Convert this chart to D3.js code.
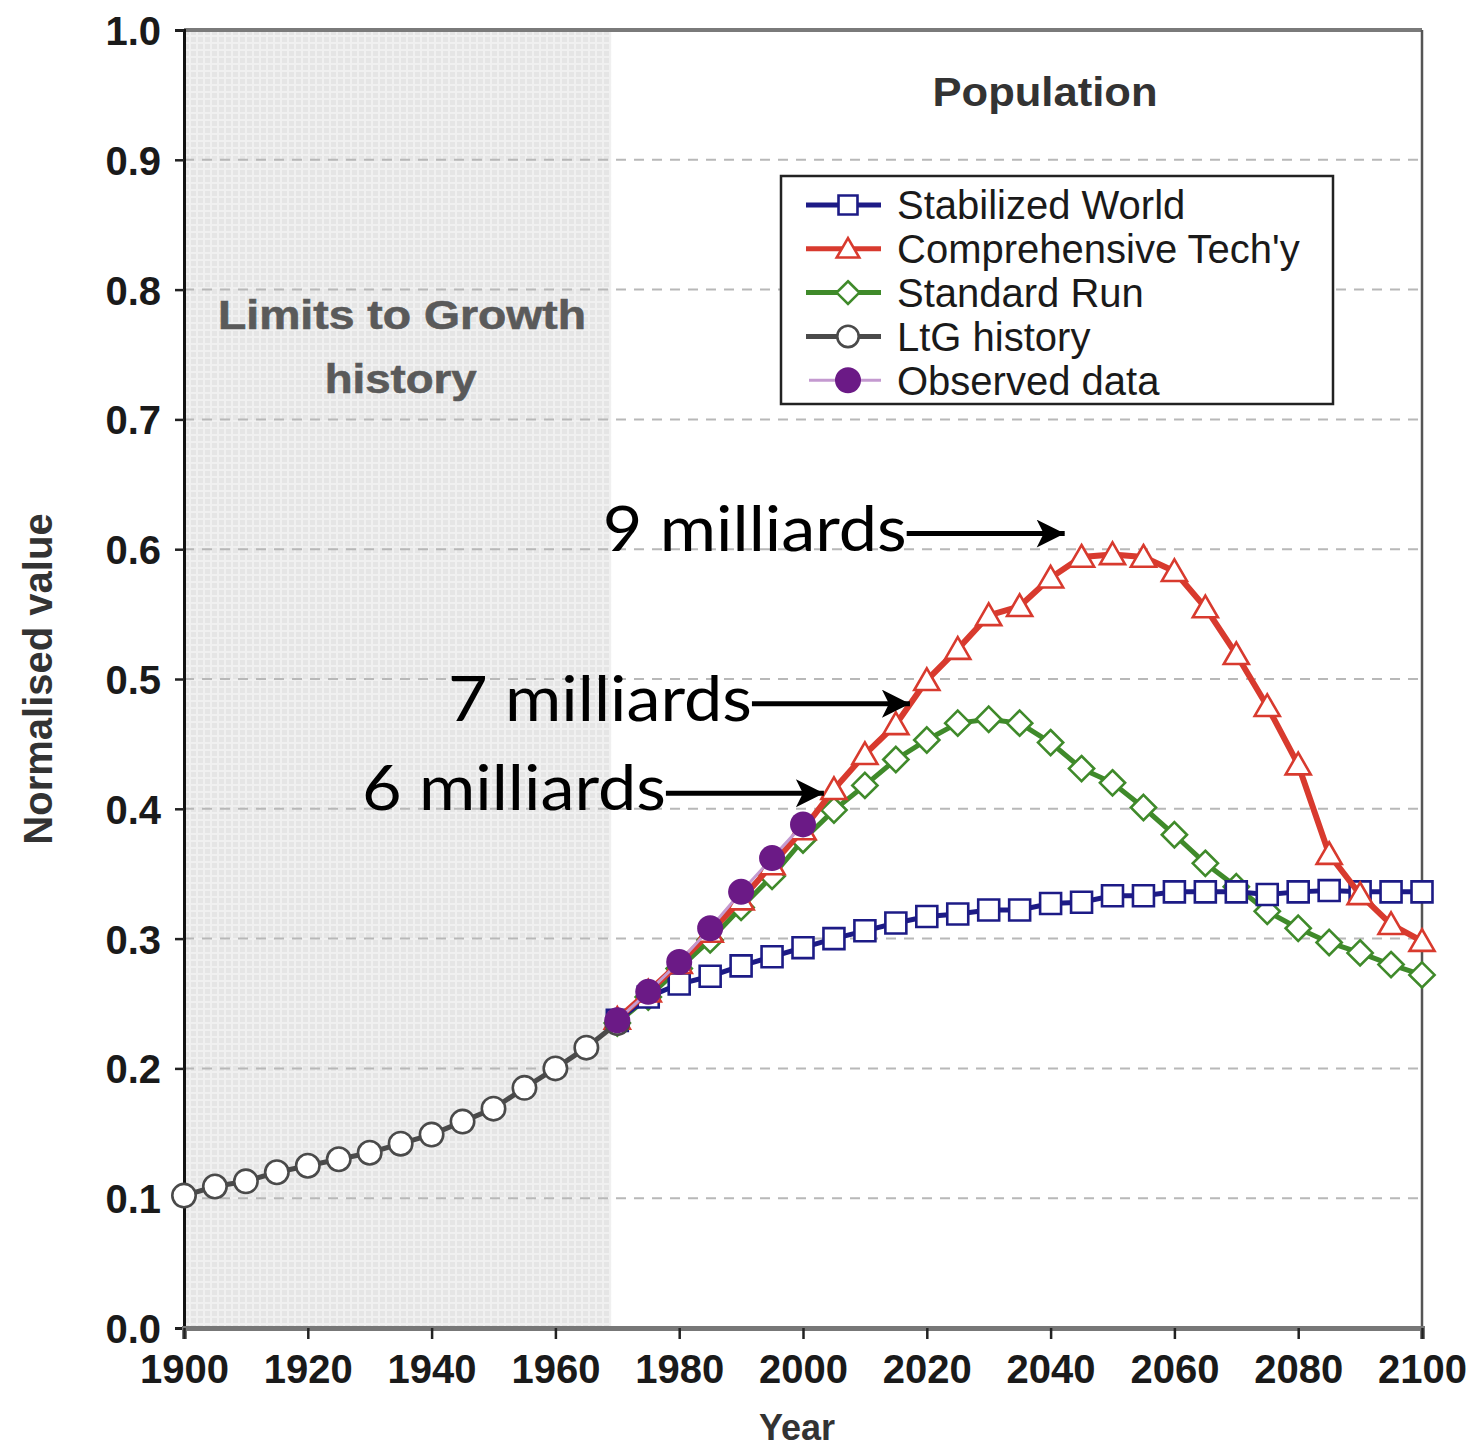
<!DOCTYPE html>
<html><head><meta charset="utf-8">
<script src="https://cdn.jsdelivr.net/npm/d3@7"></script>
<style>
html,body{margin:0;padding:0;background:#fff;}
svg{display:block;}
</style></head>
<body>
<svg id="chart" width="1474" height="1452"></svg>
<script>
// ---------- data ----------
const historyYears = [1900,1905,1910,1915,1920,1925,1930,1935,1940,1945,1950,1955,1960,1965,1970];
const ltgHistory   = [0.102,0.109,0.113,0.120,0.125,0.130,0.135,0.142,0.149,0.159,0.169,0.185,0.200,0.216,0.235];

const scenarioYears = [1970,1975,1980,1985,1990,1995,2000,2005,2010,2015,2020,2025,2030,2035,2040,2045,2050,2055,2060,2065,2070,2075,2080,2085,2090,2095,2100];
const stabilizedWorld = [0.237,0.255,0.265,0.271,0.279,0.286,0.293,0.300,0.306,0.312,0.317,0.319,0.322,0.322,0.327,0.328,0.333,0.333,0.336,0.336,0.336,0.334,0.336,0.337,0.336,0.336,0.336];
const comprehensiveTech = [0.238,0.259,0.281,0.305,0.330,0.357,0.384,0.415,0.442,0.465,0.499,0.523,0.549,0.556,0.578,0.594,0.596,0.594,0.583,0.555,0.519,0.479,0.434,0.365,0.334,0.311,0.298];
const standardRun = [0.235,0.255,0.277,0.299,0.324,0.348,0.376,0.399,0.418,0.438,0.453,0.466,0.469,0.466,0.451,0.431,0.420,0.401,0.380,0.358,0.340,0.321,0.308,0.297,0.289,0.280,0.272];

const observedYears = [1970,1975,1980,1985,1990,1995,2000];
const observedData  = [0.237,0.259,0.282,0.308,0.336,0.362,0.388];

const yTicks = [0.0,0.1,0.2,0.3,0.4,0.5,0.6,0.7,0.8,0.9,1.0];
const xTicks = [1900,1920,1940,1960,1980,2000,2020,2040,2060,2080,2100];
const legendLabels = ["Stabilized World","Comprehensive Tech'y","Standard Run","LtG history","Observed data"];
const annotationLabels = ["9 milliards","7 milliards","6 milliards"];
const annotationYears  = [2042.6,2017.6,2003.7];
const annotationValues = [0.612,0.481,0.412];
const shadedEndYear = 1969;

// ---------- layout ----------
const svg = d3.select("#chart");
const x = d3.scaleLinear().domain([1900,2100]).range([184,1422]);
const y = d3.scaleLinear().domain([0,1]).range([1328,30]);
const FONT = "Liberation Sans, Arial, sans-serif";

// shaded pattern
const defs = svg.append("defs");
const pat = defs.append("pattern").attr("id","hatch").attr("patternUnits","userSpaceOnUse")
  .attr("width",7).attr("height",7);
pat.append("rect").attr("width",7).attr("height",7).attr("fill","#e5e5e5");
pat.append("rect").attr("x",0).attr("y",0).attr("width",2).attr("height",7).attr("fill","#f0f0f0");
pat.append("rect").attr("x",0).attr("y",0).attr("width",7).attr("height",2).attr("fill","#f0f0f0");

svg.append("rect")
  .attr("x",x(1900)).attr("y",y(1))
  .attr("width",x(shadedEndYear)-x(1900)).attr("height",y(0)-y(1))
  .attr("fill","url(#hatch)");

// gridlines
svg.append("g").selectAll("line").data(yTicks.filter(d=>d>0 && d<1)).join("line")
  .attr("x1",x(1900)).attr("x2",x(2100))
  .attr("y1",d=>y(d)).attr("y2",d=>y(d))
  .attr("stroke","#b8b8b8").attr("stroke-width",2).attr("stroke-dasharray","10,8");

// "Limits to Growth history"
const ltgG = svg.append("g").attr("font-family",FONT).attr("font-weight","bold")
  .attr("font-size",40).attr("fill","#5a5a5a").attr("stroke","#5a5a5a").attr("stroke-width",0.6);
ltgG.append("text").attr("x",x(1900)+34).attr("y",y(0.77)).attr("textLength",368).attr("lengthAdjust","spacingAndGlyphs").text("Limits to Growth");
ltgG.append("text").attr("x",x(1935)).attr("y",y(0.72)).attr("text-anchor","middle").attr("textLength",152).attr("lengthAdjust","spacingAndGlyphs").text("history");

// frame
svg.append("line").attr("x1",x(1900)).attr("x2",x(2100)).attr("y1",y(1)).attr("y2",y(1))
  .attr("stroke","#7a7a7a").attr("stroke-width",4);
svg.append("line").attr("x1",x(2100)).attr("x2",x(2100)).attr("y1",y(1)).attr("y2",y(0))
  .attr("stroke","#555").attr("stroke-width",2.5);

// axes
const yAxis = svg.append("g").attr("transform",`translate(${x(1900)},0)`)
  .call(d3.axisLeft(y).tickValues(yTicks).tickFormat(d3.format(".1f")).tickSize(9).tickPadding(14));
const xAxis = svg.append("g").attr("transform",`translate(0,${y(0)})`)
  .call(d3.axisBottom(x).tickValues(xTicks).tickFormat(d3.format("d")).tickSize(11).tickPadding(16));
yAxis.select(".domain").attr("stroke","#111").attr("stroke-width",3);
xAxis.select(".domain").attr("stroke","#777").attr("stroke-width",5);
[yAxis,xAxis].forEach(g=>{
  g.selectAll(".tick line").attr("stroke","#222").attr("stroke-width",2.5);
  g.selectAll(".tick text").attr("font-family",FONT)
   .attr("font-weight","bold").attr("font-size",40).attr("fill","#1a1a1a");
});
yAxis.selectAll(".tick text").attr("dy","0.36em");

// axis titles
svg.append("text").attr("x",797).attr("y",1440).attr("text-anchor","middle")
  .attr("font-family",FONT).attr("font-weight","bold")
  .attr("font-size",36).attr("fill","#333").text("Year");
svg.append("text").attr("transform",`translate(52,${y(0.5)}) rotate(-90)`).attr("text-anchor","middle")
  .attr("font-family",FONT).attr("font-weight","bold")
  .attr("font-size",40).attr("fill","#333").text("Normalised value");
svg.append("text").attr("x",1045).attr("y",106).attr("text-anchor","middle")
  .attr("font-family",FONT).attr("font-weight","bold")
  .attr("font-size",40).attr("fill","#333").attr("textLength",225).attr("lengthAdjust","spacingAndGlyphs").text("Population");

// series
const colors = {blue:"#1d1b86", red:"#d83a2e", green:"#3f8a2a", ltg:"#4a4a4a", purple:"#6b1a86", purpleLine:"#c49ad0"};
const line = d3.line().x(d=>x(d[0])).y(d=>y(d[1]));
const zip = (a,b)=>a.map((v,i)=>[v,b[i]]);

function drawSeries(data,color,shape,size,lw){
  const g = svg.append("g");
  g.append("path").datum(data).attr("d",line).attr("fill","none").attr("stroke",color).attr("stroke-width",lw);
  const sym = d3.symbol().type(shape).size(size);
  g.selectAll("path.m").data(data).join("path").attr("class","m")
    .attr("d",sym).attr("transform",d=>`translate(${x(d[0])},${y(d[1])})`)
    .attr("fill","#fff").attr("stroke",color).attr("stroke-width",2.6);
}
const diamond = {draw(ctx,size){const r=Math.sqrt(size)/2*1.2;ctx.moveTo(0,-r);ctx.lineTo(r,0);ctx.lineTo(0,r);ctx.lineTo(-r,0);ctx.closePath();}};
const triangle = {draw(ctx,size){const r=Math.sqrt(size)/2;ctx.moveTo(0,-r*1.05);ctx.lineTo(r*1.1,r*0.85);ctx.lineTo(-r*1.1,r*0.85);ctx.closePath();}};

drawSeries(zip(scenarioYears,standardRun),colors.green,diamond,440,5);
drawSeries(zip(scenarioYears,stabilizedWorld),colors.blue,d3.symbolSquare,440,5);
drawSeries(zip(scenarioYears,comprehensiveTech),colors.red,triangle,520,6);
drawSeries(zip(historyYears,ltgHistory),colors.ltg,d3.symbolCircle,430,5);

// observed
const obs = zip(observedYears,observedData);
svg.append("path").datum(obs).attr("d",line).attr("fill","none").attr("stroke",colors.purpleLine).attr("stroke-width",3);
svg.append("g").selectAll("circle").data(obs).join("circle")
  .attr("cx",d=>x(d[0])).attr("cy",d=>y(d[1])).attr("r",13).attr("fill",colors.purple);

// legend
const lg = svg.append("g").attr("transform","translate(781,176)");
lg.append("rect").attr("width",552).attr("height",228).attr("fill","#fff").attr("stroke","#222").attr("stroke-width",2.5);
const legendStyles = [
  {c:colors.blue,shape:d3.symbolSquare,size:360},
  {c:colors.red,shape:triangle,size:420},
  {c:colors.green,shape:diamond,size:360},
  {c:colors.ltg,shape:d3.symbolCircle,size:360}
];
legendLabels.forEach((lab,i)=>{
  const cy = 29 + i*43.8;
  const row = lg.append("g").attr("transform",`translate(0,${cy})`);
  if(i<4){
    const s = legendStyles[i];
    row.append("line").attr("x1",25).attr("x2",100).attr("stroke",s.c).attr("stroke-width",5);
    row.append("path").attr("d",d3.symbol().type(s.shape).size(s.size)).attr("transform","translate(67,0)")
      .attr("fill","#fff").attr("stroke",s.c).attr("stroke-width",2.6);
  } else {
    row.append("line").attr("x1",28).attr("x2",100).attr("stroke",colors.purpleLine).attr("stroke-width",3);
    row.append("circle").attr("cx",67).attr("r",13).attr("fill",colors.purple);
  }
  row.append("text").attr("x",116).attr("dy","0.36em")
    .attr("font-family",FONT).attr("font-size",40).attr("fill","#1a1a1a").text(lab);
});

// annotations
defs.append("marker").attr("id","arrow").attr("viewBox","0 0 10 10").attr("refX",10).attr("refY",5)
  .attr("markerWidth",6.5).attr("markerHeight",5.6).attr("orient","auto").attr("markerUnits","strokeWidth")
  .append("path").attr("d","M0,0 L10,5 L0,10 L2.5,5 Z").attr("fill","#000");
annotationLabels.forEach((lab,i)=>{
  const tx = x(annotationYears[i]), ty = y(annotationValues[i]);
  const shaft = 160;
  svg.append("line").attr("x1",tx-shaft).attr("x2",tx-2).attr("y1",ty).attr("y2",ty)
    .attr("stroke","#000").attr("stroke-width",5).attr("marker-end","url(#arrow)");
  svg.append("text").attr("x",tx-shaft-304).attr("y",ty+17)
    .attr("font-family","Lato, 'Open Sans', sans-serif").attr("font-size",62).attr("fill","#000")
    .attr("textLength",304).attr("lengthAdjust","spacingAndGlyphs").text(lab);
});
</script>
</body></html>
